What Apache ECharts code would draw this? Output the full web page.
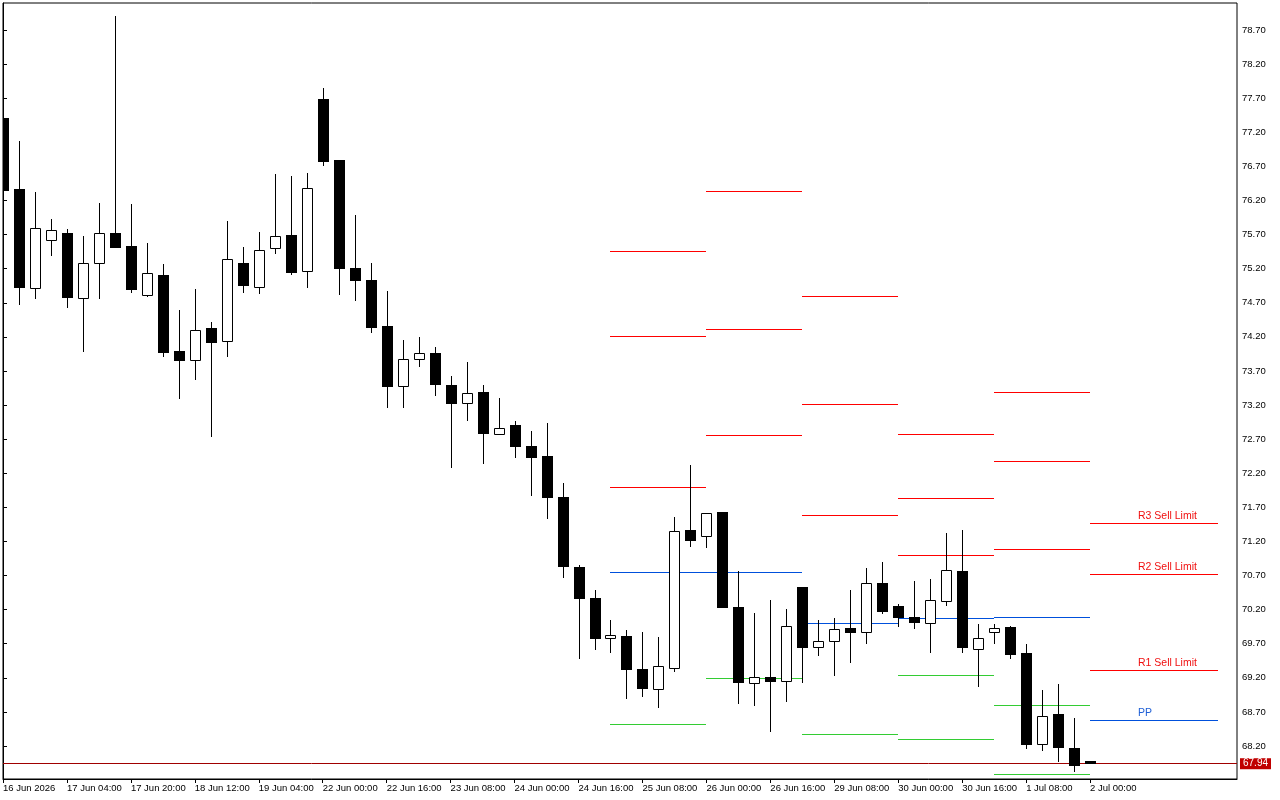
<!DOCTYPE html>
<html>
<head>
<meta charset="utf-8">
<script src="https://cdn.jsdelivr.net/npm/echarts@6/dist/echarts.min.js"></script>
<style>
html,body{margin:0;padding:0;background:#fff;}
#chart{width:1280px;height:800px;}
</style>
</head>
<body>
<div id="chart"></div>
<script>
// ---- tick labels (one every 4 H4 bars) ----
const tickLabels = ['16 Jun 2026','17 Jun 04:00','17 Jun 20:00','18 Jun 12:00','19 Jun 04:00','22 Jun 00:00','22 Jun 16:00','23 Jun 08:00','24 Jun 00:00','24 Jun 16:00','25 Jun 08:00','26 Jun 00:00','26 Jun 16:00','29 Jun 08:00','30 Jun 00:00','30 Jun 16:00','1 Jul 08:00','2 Jul 00:00'];
const priceTicks = [68.2,68.7,69.2,69.7,70.2,70.7,71.2,71.7,72.2,72.7,73.2,73.7,74.2,74.7,75.2,75.7,76.2,76.7,77.2,77.7,78.2,78.7];

// ---- candles (H4) ----
const open  = [77.41,76.37,74.91,75.62,75.73,74.77,75.28,75.73,75.53,74.81,75.11,73.99,73.86,74.33,74.14,75.29,74.93,75.50,75.70,75.16,77.69,76.79,75.21,75.03,74.36,73.48,73.87,73.96,73.50,73.23,73.39,72.77,72.91,72.60,72.45,71.85,70.83,70.37,69.79,69.82,69.33,69.03,69.35,71.37,71.28,71.63,70.24,69.13,69.21,69.15,70.53,69.65,69.74,69.93,69.87,70.59,70.25,70.09,70.01,70.32,70.77,69.62,69.87,69.94,69.56,68.23,68.67,68.17,67.98];
const close = [76.34,74.91,75.79,75.76,74.77,75.29,75.73,75.51,74.88,75.13,73.97,73.84,74.30,74.11,75.34,74.94,75.48,75.68,75.14,76.38,76.77,75.20,75.02,74.33,73.47,73.87,73.97,73.50,73.22,73.37,72.77,72.87,72.59,72.43,71.83,70.83,70.36,69.77,69.83,69.32,69.04,69.38,71.36,71.20,71.61,70.23,69.13,69.21,69.14,69.96,69.63,69.74,69.91,69.85,70.59,70.17,70.08,70.01,70.34,70.78,69.63,69.79,69.93,69.54,68.22,68.64,68.17,67.90,67.94];
const low   = [76.34,74.66,74.75,75.39,74.63,73.98,74.76,75.50,74.85,74.79,73.91,73.29,73.56,72.73,73.91,74.85,74.83,75.42,75.10,74.92,76.70,74.82,74.72,74.25,73.15,73.15,73.76,73.34,72.27,72.97,72.33,72.77,72.43,71.87,71.53,70.67,69.48,69.61,69.57,68.89,68.92,68.75,69.29,71.12,71.11,70.23,68.82,68.79,68.41,68.85,69.13,69.52,69.23,69.42,69.70,70.14,69.94,69.91,69.57,70.26,69.57,69.07,69.70,69.48,68.16,68.13,67.96,67.82,67.94];
const high  = [77.41,77.07,76.32,75.93,75.78,75.68,76.16,78.91,76.15,75.58,75.27,74.59,74.90,74.42,75.90,75.52,75.74,76.59,76.56,76.60,77.85,76.79,75.99,75.28,74.87,74.15,74.20,74.05,73.63,73.83,73.49,73.30,72.96,72.82,72.94,72.06,70.85,70.49,70.05,69.90,69.87,69.80,71.56,72.32,71.61,71.63,70.77,70.15,70.34,70.21,70.53,70.05,70.08,70.49,70.81,70.90,70.28,70.62,70.65,71.32,71.37,69.99,69.99,69.96,69.70,69.02,69.11,68.61,67.98];

// ---- daily pivot levels (segment start / end bar index) ----
const segStart = [38,44,50,56,62,68];
const segEnd   = [44,50,56,62,68,76];
const r3 = [75.46,76.34,74.80,72.78,73.39,71.47];
const r2 = [74.21,74.32,73.22,71.84,72.38,70.72];
const r1 = [72.00,72.76,71.59,71.00,71.09,69.31];
const pp = [70.75,70.75,70.00,70.08,70.09,68.58];
const s1 = [68.52,69.19,68.37,69.24,68.80,null];
const s2 = [null,null,null,68.30,67.79,null];
const levelNames = ['R3 Sell Limit','R2 Sell Limit','R1 Sell Limit','PP'];
const currentPrice = 67.94;

const RED = '#FF0000', BLUE = '#0050DC', GREEN = '#33CC33';
const FONT = 'Liberation Sans, Arial, sans-serif';

const candleData = open.map((o, i) => [i, o, close[i], low[i], high[i]]);

const levelSets = [[r3, RED], [r2, RED], [r1, RED], [pp, BLUE], [s1, GREEN], [s2, GREEN]];
const pivotData = [];
levelSets.forEach(([arr, col], k) => {
  arr.forEach((v, s) => { if (v != null) pivotData.push([segStart[s], segEnd[s], v, k]); });
});
const pivotColors = levelSets.map(l => l[1]);

const last = segStart.length - 1;
const labelVals = [r3[last], r2[last], r1[last], pp[last]];
const labelData = labelVals.map((v, k) => [segStart[last] + 3, v, k]);

const chart = echarts.init(document.getElementById('chart'), null, {renderer: 'canvas'});

chart.setOption({
  backgroundColor: '#fff',
  animation: false,
  grid: {left: 2, top: 3, right: 43, bottom: 21, show: true, borderColor: '#000', borderWidth: 1, backgroundColor: '#fff'},
  xAxis: {
    type: 'value', min: 0, max: 77.19,
    axisLine: {show: true, lineStyle: {color: '#000', width: 1}},
    axisTick: {show: true, length: 4, lineStyle: {color: '#000'}, customValues: tickLabels.map((t, k) => k * 4)},
    axisLabel: {
      customValues: tickLabels.map((t, k) => k * 4),
      formatter: v => tickLabels[Math.round(v / 4)] || '',
      align: 'left', margin: 4, color: '#000', fontSize: 9.5, fontFamily: FONT
    },
    splitLine: {show: false}
  },
  yAxis: {
    type: 'value', position: 'right', min: 67.716, max: 79.096, scale: true,
    axisLine: {show: true, lineStyle: {color: '#000', width: 1}},
    axisTick: {show: true, length: 4, inside: false, lineStyle: {color: '#000'}, customValues: priceTicks},
    axisLabel: {customValues: priceTicks, formatter: v => v.toFixed(2), margin: 5, color: '#000', fontSize: 9.5, fontFamily: FONT},
    splitLine: {show: false}
  },
  series: [
    {
      type: 'custom', name: 'pivots', clip: true, z: 2,
      data: pivotData,
      renderItem: (params, api) => {
        const a = api.coord([api.value(0), api.value(2)]);
        const b = api.coord([api.value(1), api.value(2)]);
        const y = Math.round(a[1]) + 0.5;
        return {type: 'line', shape: {x1: Math.round(a[0]), y1: y, x2: Math.round(b[0]), y2: y},
          style: {stroke: pivotColors[api.value(3)], lineWidth: 1}};
      }
    },
    {
      type: 'custom', name: 'labels', clip: false, z: 3,
      data: labelData,
      renderItem: (params, api) => {
        const p = api.coord([api.value(0), api.value(1)]);
        const k = api.value(2);
        return {type: 'text', x: Math.round(p[0]), y: Math.round(p[1]) - 1,
          style: {text: levelNames[k], fill: k === 3 ? '#1F5FD6' : '#F01010', font: '10.5px ' + FONT, textAlign: 'left', textVerticalAlign: 'bottom'}};
      }
    },
    {
      type: 'line', name: 'price', data: [], z: 4,
      markLine: {
        silent: true, symbol: 'none', animation: false,
        lineStyle: {color: '#A00000', width: 1, type: 'solid'},
        label: {show: true, position: 'end', distance: 3, formatter: currentPrice.toFixed(2),
          color: '#fff', backgroundColor: '#C00000', padding: [1, 3, 0, 3], fontSize: 10, fontFamily: FONT},
        data: [{yAxis: currentPrice}]
      }
    },
    {
      type: 'custom', name: 'candles', clip: true, z: 5,
      data: candleData,
      renderItem: (params, api) => {
        const i = api.value(0), o = api.value(1), c = api.value(2), l = api.value(3), h = api.value(4);
        const pO = api.coord([i, o]), pC = api.coord([i, c]), pL = api.coord([i, l]), pH = api.coord([i, h]);
        const cx = Math.round(pO[0]) + 0.5;
        const top = Math.round(Math.min(pO[1], pC[1]));
        const bot = Math.round(Math.max(pO[1], pC[1]));
        const children = [{
          type: 'line', shape: {x1: cx, y1: Math.round(pH[1]), x2: cx, y2: Math.round(pL[1])},
          style: {stroke: '#000', lineWidth: 1}
        }];
        if (c > o) {
          children.push({type: 'rect', shape: {x: cx - 5, y: top + 0.5, width: 10, height: Math.max(bot - top, 1)},
            style: {fill: '#fff', stroke: '#000', lineWidth: 1}});
        } else {
          children.push({type: 'rect', shape: {x: cx - 5.5, y: top, width: 11, height: Math.max(bot - top, 2)},
            style: {fill: '#000', stroke: null}});
        }
        return {type: 'group', children};
      }
    }
  ]
});
</script>
</body>
</html>
